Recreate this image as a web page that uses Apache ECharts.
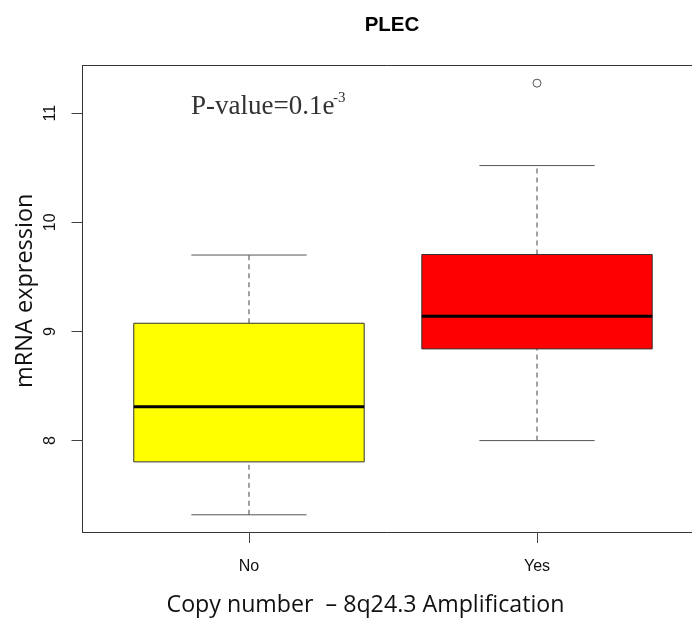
<!DOCTYPE html>
<html>
<head>
<meta charset="utf-8">
<title>PLEC</title>
<script src="https://cdn.jsdelivr.net/npm/echarts@6/dist/echarts.min.js"></script>
<style>
  html, body { margin: 0; padding: 0; background: #fff; }
  #main { width: 692px; height: 619px; }
</style>
</head>
<body>
<div id="main"></div>
<script>
// data
var categories = ['No', 'Yes'];
var lowWhisker = [7.32, 8.00];
var q1 = [7.805, 8.84];
var medians = [8.31, 9.14];
var q3 = [9.075, 9.705];
var highWhisker = [9.70, 10.52];
var outliers = [[2, 11.275]];
var yTicks = [8, 9, 10, 11];
var boxColors = ['#ffff00', '#ff0000'];

var chart = echarts.init(document.getElementById('main'));

var boxData = categories.map(function (c, i) {
  return [i + 1, lowWhisker[i], q1[i], medians[i], q3[i], highWhisker[i]];
});

// R style box: dashed whiskers, half-width caps, thick median
function renderBox(params, api) {
  var x = api.value(0);
  var pLow = api.coord([x, api.value(1)]);
  var pQ1 = api.coord([x, api.value(2)]);
  var pMed = api.coord([x, api.value(3)]);
  var pQ3 = api.coord([x, api.value(4)]);
  var pHigh = api.coord([x, api.value(5)]);
  var halfBox = api.size([0.8, 0])[0] / 2;
  var halfCap = api.size([0.4, 0])[0] / 2;
  var cx = pMed[0];
  var dash = { stroke: '#444', lineWidth: 1, lineDash: [5, 4] };
  var solid = { stroke: '#555', lineWidth: 1 };
  return {
    type: 'group',
    children: [
      { type: 'line', shape: { x1: cx, y1: pQ3[1], x2: cx, y2: pHigh[1] }, style: dash },
      { type: 'line', shape: { x1: cx, y1: pLow[1], x2: cx, y2: pQ1[1] }, style: dash },
      { type: 'line', shape: { x1: cx - halfCap, y1: pHigh[1], x2: cx + halfCap, y2: pHigh[1] }, style: solid },
      { type: 'line', shape: { x1: cx - halfCap, y1: pLow[1], x2: cx + halfCap, y2: pLow[1] }, style: solid },
      {
        type: 'rect',
        shape: { x: cx - halfBox, y: pQ3[1], width: halfBox * 2, height: pQ1[1] - pQ3[1] },
        style: { fill: boxColors[params.dataIndex], stroke: '#333', lineWidth: 1 }
      },
      { type: 'line', shape: { x1: cx - halfBox, y1: pMed[1], x2: cx + halfBox, y2: pMed[1] }, style: { stroke: '#000', lineWidth: 3 } }
    ]
  };
}

var option = {
  animation: false,
  backgroundColor: '#fff',
  title: {
    text: 'PLEC',
    left: 387,
    top: 10,
    textAlign: 'center',
    textStyle: { fontFamily: 'Liberation Sans', fontWeight: 'bold', fontSize: 20.5, color: '#000' }
  },
  grid: {
    left: 82.5,
    width: 640,
    top: 65.5,
    bottom: 87,
    outerBoundsMode: 'none'
  },
  xAxis: [
    {
      type: 'value',
      min: 0.422,
      max: 2.644,
      splitLine: { show: false },
      axisLine: { show: true, lineStyle: { color: '#333' } },
      axisTick: { show: true, customValues: [1, 2], length: 11, lineStyle: { color: '#444' } },
      axisLabel: {
        customValues: [1, 2],
        formatter: function (v) { return categories[Math.round(v) - 1]; },
        margin: 27,
        fontFamily: 'Liberation Sans',
        fontSize: 16,
        color: '#111'
      },
      name: 'Copy number  \u2013 8q24.3 Amplification',
      nameLocation: 'middle',
      nameGap: 62,
      nameTextStyle: { fontFamily: 'Open Sans', fontSize: 23.2, color: '#111', padding: [0, 74, 0, 0] }
    },
    {
      // top edge of the plot frame
      type: 'value',
      position: 'top',
      min: 0.422,
      max: 2.644,
      splitLine: { show: false },
      axisLine: { show: true, lineStyle: { color: '#333' } },
      axisTick: { show: false },
      axisLabel: { show: false }
    }
  ],
  yAxis: {
    type: 'value',
    min: 7.1624,
    max: 11.4367,
    splitLine: { show: false },
    axisLine: { show: true, lineStyle: { color: '#333' } },
    axisTick: { show: true, customValues: yTicks, length: 11, lineStyle: { color: '#444' } },
    axisLabel: {
      customValues: yTicks,
      rotate: 90,
      margin: 24,
      fontFamily: 'Liberation Sans',
      fontSize: 16,
      color: '#111'
    },
    name: 'mRNA expression',
    nameLocation: 'middle',
    nameGap: 45,
    nameMoveOverlap: false,
    nameTextStyle: { fontFamily: 'Open Sans', fontSize: 23.5, color: '#111', padding: [0, 0, 0, 16] }
  },
  graphic: [
    {
      type: 'text',
      left: 191,
      top: 93,
      style: { text: 'P-value=0.1e', font: '27px "Liberation Serif"', fill: '#333' }
    },
    {
      type: 'text',
      left: 333,
      top: 91,
      style: { text: '-3', font: '15px "Liberation Serif"', fill: '#333' }
    }
  ],
  series: [
    {
      type: 'custom',
      renderItem: renderBox,
      data: boxData,
      encode: { x: 0, y: [1, 2, 3, 4, 5] },
      z: 2
    },
    {
      type: 'scatter',
      data: outliers,
      symbol: 'circle',
      symbolSize: 8,
      itemStyle: { color: 'rgba(255,255,255,0)', borderColor: '#111', borderWidth: 0.9 },
      z: 3
    }
  ]
};

chart.setOption(option);
</script>
</body>
</html>
